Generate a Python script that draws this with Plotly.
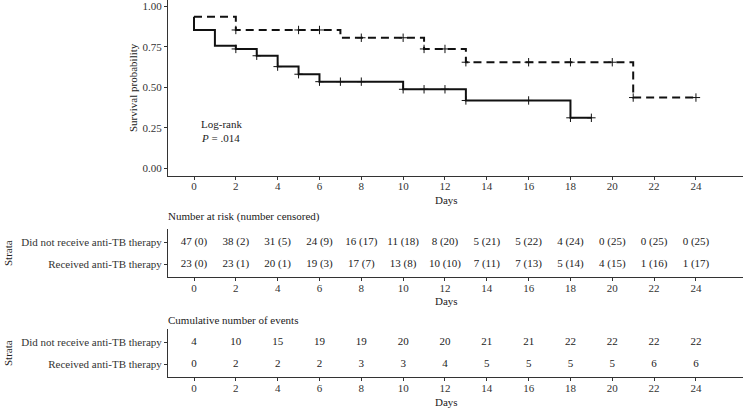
import plotly.graph_objects as go

W, H = 745, 409

# ---- data ----
days_ticks = [0, 2, 4, 6, 8, 10, 12, 14, 16, 18, 20, 22, 24]
groups = ["Did not receive anti-TB therapy", "Received anti-TB therapy"]

# Kaplan-Meier steps (as read against the printed axis)
no_tb_time = [0, 0, 1, 2, 3, 4, 5, 6, 10, 13, 18, 19]
no_tb_surv = [0.935, 0.853, 0.756, 0.736, 0.694, 0.627, 0.580, 0.534, 0.487, 0.418, 0.311, 0.311]
tb_time = [0, 2, 7, 11, 13, 21, 24]
tb_surv = [0.935, 0.853, 0.805, 0.736, 0.654, 0.436, 0.436]

no_tb_censor = [2, 3, 4, 5, 6, 7, 8, 10, 11, 12, 13, 16, 18, 19]
tb_censor = [2, 5, 6, 8, 10, 11, 12, 13, 16, 18, 20, 21, 24]

risk_no_tb = ["47 (0)", "38 (2)", "31 (5)", "24 (9)", "16 (17)", "11 (18)", "8 (20)",
              "5 (21)", "5 (22)", "4 (24)", "0 (25)", "0 (25)", "0 (25)"]
risk_tb = ["23 (0)", "23 (1)", "20 (1)", "19 (3)", "17 (7)", "13 (8)", "10 (10)",
           "7 (11)", "7 (13)", "5 (14)", "4 (15)", "1 (16)", "1 (17)"]
events_no_tb = [4, 10, 15, 19, 19, 20, 20, 21, 21, 22, 22, 22, 22]
events_tb = [0, 2, 2, 2, 3, 3, 4, 5, 5, 5, 5, 6, 6]

FONT = "Liberation Serif"
TXT = "#222222"
LINE = "#111111"


def step_at(times, surv, t):
    v = surv[0]
    for ti, si in zip(times, surv):
        if ti <= t:
            v = si
    return v


def px(x):
    return x / W


def py(y):
    return 1 - y / H


fig = go.Figure()

# KM curves
fig.add_trace(go.Scatter(x=no_tb_time, y=no_tb_surv, mode="lines", line_shape="hv",
                         line=dict(color=LINE, width=2), xaxis="x", yaxis="y",
                         showlegend=False, hoverinfo="skip"))
fig.add_trace(go.Scatter(x=tb_time, y=tb_surv, mode="lines", line_shape="hv",
                         line=dict(color=LINE, width=2, dash="8px,5px"), xaxis="x", yaxis="y",
                         showlegend=False, hoverinfo="skip"))
# censor marks
marker = dict(symbol="cross-thin", size=6, line=dict(color=LINE, width=1))
fig.add_trace(go.Scatter(x=no_tb_censor, y=[step_at(no_tb_time, no_tb_surv, t) for t in no_tb_censor],
                         mode="markers", marker=marker,
                         xaxis="x", yaxis="y", showlegend=False, hoverinfo="skip"))
fig.add_trace(go.Scatter(x=tb_censor, y=[step_at(tb_time, tb_surv, t) for t in tb_censor],
                         mode="markers", marker=marker,
                         xaxis="x", yaxis="y", showlegend=False, hoverinfo="skip"))

tfont = dict(family=FONT, size=11, color=TXT)
# risk table
fig.add_trace(go.Scatter(x=days_ticks, y=[2] * len(days_ticks), text=risk_no_tb, mode="text",
                         textfont=tfont, xaxis="x2", yaxis="y2",
                         showlegend=False, hoverinfo="skip"))
fig.add_trace(go.Scatter(x=days_ticks, y=[1] * len(days_ticks), text=risk_tb, mode="text",
                         textfont=tfont, xaxis="x2", yaxis="y2",
                         showlegend=False, hoverinfo="skip"))
# events table
fig.add_trace(go.Scatter(x=days_ticks, y=[2] * len(days_ticks), text=[str(v) for v in events_no_tb],
                         mode="text", textfont=tfont,
                         xaxis="x3", yaxis="y3", showlegend=False, hoverinfo="skip"))
fig.add_trace(go.Scatter(x=days_ticks, y=[1] * len(days_ticks), text=[str(v) for v in events_tb],
                         mode="text", textfont=tfont,
                         xaxis="x3", yaxis="y3", showlegend=False, hoverinfo="skip"))

xdom = [px(168), px(743)]
xrange_ = [-1.243, 26.25]
axis_common = dict(showgrid=False, zeroline=False, showline=True, linecolor="#333333",
                   linewidth=1, ticks="outside", ticklen=3, tickwidth=1, tickcolor="#333333",
                   automargin=False,
                   tickfont=dict(family=FONT, size=11, color="#333333"))


def xaxis_def(anchor):
    d = dict(axis_common)
    d.update(domain=xdom, range=xrange_, tickvals=days_ticks,
             ticktext=[str(v) for v in days_ticks], anchor=anchor,
             ticklabelstandoff=-3)
    return d


ymain = dict(axis_common)
ymain.update(domain=[py(175.5), 1], range=[-0.045, 1.038],
             tickvals=[0, 0.25, 0.5, 0.75, 1.0],
             ticktext=["0.00", "0.25", "0.50", "0.75", "1.00"], anchor="x")

ytab2 = dict(axis_common)
ytab2.update(domain=[py(277.3), py(229)], range=[0.4, 2.6], tickvals=[2, 1],
             ticktext=groups, anchor="x2")
ytab3 = dict(axis_common)
ytab3.update(domain=[py(377.3), py(329)], range=[0.4, 2.6], tickvals=[2, 1],
             ticktext=groups, anchor="x3")

annotations = [
    dict(text="Survival probability", x=px(133), y=py(88), textangle=-90),
    dict(text="Days", x=px(446), y=py(200)),
    dict(text="Days", x=px(446), y=py(301)),
    dict(text="Days", x=px(446), y=py(402)),
    dict(text="Strata", x=px(8), y=py(253), textangle=-90),
    dict(text="Strata", x=px(8), y=py(353), textangle=-90),
    dict(text="Number at risk (number censored)", x=px(166), y=py(216), xanchor="left"),
    dict(text="Cumulative number of events", x=px(166), y=py(320), xanchor="left"),
    dict(text="Log-rank", x=px(199), y=py(124), xanchor="left"),
    dict(text="<i>P</i> = .014", x=px(199), y=py(138), xanchor="left"),
]
for a in annotations:
    a.update(xref="paper", yref="paper", showarrow=False, font=dict(family=FONT, size=11, color=TXT))
    a.setdefault("xanchor", "center")
    a.setdefault("yanchor", "middle")

fig.update_layout(
    width=W, height=H,
    margin=dict(l=0, r=0, t=0, b=0, pad=0, autoexpand=False),
    paper_bgcolor="white", plot_bgcolor="white",
    font=dict(family=FONT, size=11, color=TXT),
    xaxis=xaxis_def("y"), xaxis2=xaxis_def("y2"), xaxis3=xaxis_def("y3"),
    yaxis=ymain, yaxis2=ytab2, yaxis3=ytab3,
    annotations=annotations,
    showlegend=False,
)

fig.write_html("out.html", config={"displayModeBar": False},
               post_script="document.body.style.margin='0';document.body.style.overflow='hidden';")
